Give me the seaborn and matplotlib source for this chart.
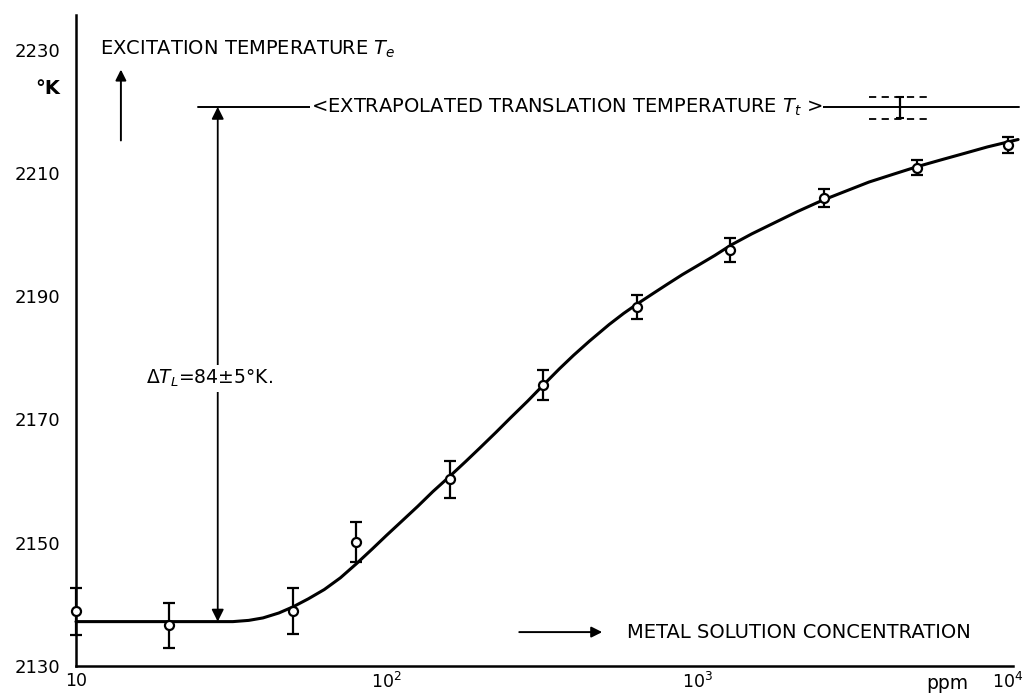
import numpy as np
import pandas as pd
import matplotlib
matplotlib.use("Agg")
import matplotlib.pyplot as plt
import seaborn as sns

# ---- data ----
conc = [10, 20, 50, 80, 160, 320, 640, 1280, 2560, 5120, 10000]
temp = [2138.9, 2136.6, 2138.9, 2150.1, 2160.3, 2175.6, 2188.3, 2197.5, 2205.9, 2210.8, 2214.5]
err = [3.8, 3.7, 3.7, 3.2, 3.0, 2.4, 1.95, 1.95, 1.45, 1.2, 1.35]

curve_conc = [10, 20, 32, 36, 40, 45, 50, 56, 63, 71, 80, 90, 100, 112, 126, 141,
              160, 180, 200, 225, 250, 285, 320, 360, 400, 450, 521, 580, 640, 720,
              800, 897, 1000, 1140, 1287, 1500, 1791, 2100, 2520, 3000, 3574, 4300,
              5110, 6100, 7310, 8600, 10200, 10800]
curve_temp = [2137.2, 2137.2, 2137.2, 2137.4, 2137.8, 2138.6, 2139.6, 2140.9, 2142.4,
              2144.3, 2146.6, 2149.0, 2151.2, 2153.5, 2155.9, 2158.3, 2160.8, 2163.2,
              2165.4, 2167.9, 2170.2, 2173.0, 2175.6, 2178.2, 2180.4, 2182.7, 2185.4,
              2187.2, 2188.7, 2190.4, 2191.9, 2193.5, 2194.9, 2196.6, 2198.3, 2200.1,
              2202.0, 2203.7, 2205.5, 2207.0, 2208.5, 2209.8, 2211.0, 2212.1, 2213.2,
              2214.2, 2215.1, 2215.4]

y_ticks = [2130, 2150, 2170, 2190, 2210, 2230]
x_ticks = [10, 100, 1000, 10000]
x_ticklabels = ["10", "$10^2$", "$10^3$", "$10^4$"]

T_trans = 2220.7
T_flat = 2137.2

sns.set_style("white")
plt.rcParams['font.family'] = ['DejaVu Sans']
plt.rcParams['mathtext.fontset'] = 'dejavusans'
plt.rcParams['text.color'] = 'black'
plt.rcParams['xtick.color'] = 'black'
plt.rcParams['ytick.color'] = 'black'

fig = plt.figure(figsize=(10.28, 6.93), dpi=100)
ax = fig.add_axes([76/1028, 1-666/693, (1013-76)/1028, (666-15)/693])
ax.set_xscale('log')

curve_df = pd.DataFrame({"conc": curve_conc, "temp": curve_temp})
sns.lineplot(data=curve_df, x="conc", y="temp", color="black", linewidth=2.2,
             ax=ax, clip_on=False, sort=False)

ax.errorbar(conc, temp, yerr=err, fmt='o', mfc='white', mec='black', ms=6.5,
            mew=1.6, ecolor='black', elinewidth=1.6, capsize=4, capthick=1.8,
            zorder=4, clip_on=False)

ax.set_xlim(10, 10400)
ax.set_ylim(2130, 2235.6)
ax.set_xlabel("")
ax.set_ylabel("")

for s in ["top", "right"]:
    ax.spines[s].set_visible(False)
for s in ["left", "bottom"]:
    ax.spines[s].set_linewidth(1.8)
    ax.spines[s].set_color("black")

ax.set_yticks(y_ticks)
ax.set_yticklabels([str(v) for v in y_ticks])
ax.set_xticks(x_ticks)
ax.set_xticklabels(x_ticklabels)
ax.xaxis.set_minor_locator(matplotlib.ticker.LogLocator(base=10, subs=np.arange(2, 10)))
ax.xaxis.set_minor_formatter(matplotlib.ticker.NullFormatter())
ax.tick_params(axis='y', which='major', direction='in', length=8, width=1.5,
               pad=11, labelsize=13, colors='black')
ax.tick_params(axis='x', which='both', direction='in', length=7, width=1.4,
               pad=4, labelsize=12.5, colors='black')

fs = 14

# Excitation temperature label and up arrow
ax.text(11.95, 2230, "EXCITATION TEMPERATURE $T_e$", fontsize=fs, ha='left', va='center')
ax.annotate("", xy=(13.95, 2227.2), xytext=(13.95, 2214.8),
            arrowprops=dict(arrowstyle='-|>', color='black', lw=1.4,
                            mutation_scale=16))
fig.text(48/1028, 1-88/693, "°K", fontsize=14, fontweight='bold', ha='center', va='center')

# Extrapolated translation temperature line
ax.plot([24.7, 10900], [T_trans, T_trans], color='black', lw=1.4, clip_on=False, zorder=2)
ax.text(57, T_trans, "<EXTRAPOLATED TRANSLATION TEMPERATURE $T_t$ >", fontsize=fs,
        ha='left', va='center',
        bbox=dict(facecolor='white', edgecolor='none', pad=0.5), zorder=3)
ax.plot([3570, 5700], [2222.3, 2222.3], color='black', lw=1.3, ls=(0, (4, 3)))
ax.plot([3570, 5700], [2218.8, 2218.8], color='black', lw=1.3, ls=(0, (4, 3)))
ax.errorbar([4500], [T_trans], yerr=[[1.75], [1.65]], fmt='none', ecolor='black',
            elinewidth=1.6, capsize=3, capthick=1.5)

# Delta T double arrow
ax.annotate("", xy=(28.6, T_trans), xytext=(28.6, T_flat),
            arrowprops=dict(arrowstyle='<|-|>', color='black', lw=1.3,
                            mutation_scale=18, shrinkA=0, shrinkB=0))
ax.text(26.8, 2176.7, "$\\Delta T_L$=84±5°K.", fontsize=13.5, ha='center', va='center',
        bbox=dict(facecolor='white', edgecolor='none', pad=2), zorder=3)

# Metal solution concentration
ax.annotate("", xy=(505, 2135.5), xytext=(262, 2135.5),
            arrowprops=dict(arrowstyle='-|>', color='black', lw=1.4,
                            mutation_scale=16))
ax.text(596, 2135.5, "METAL SOLUTION CONCENTRATION", fontsize=fs, ha='left', va='center')

# ppm unit label
ax.text(6370, -0.027, "ppm", fontsize=13.5, ha='center', va='center',
        transform=ax.get_xaxis_transform())

fig.savefig("out.png", dpi=100)
